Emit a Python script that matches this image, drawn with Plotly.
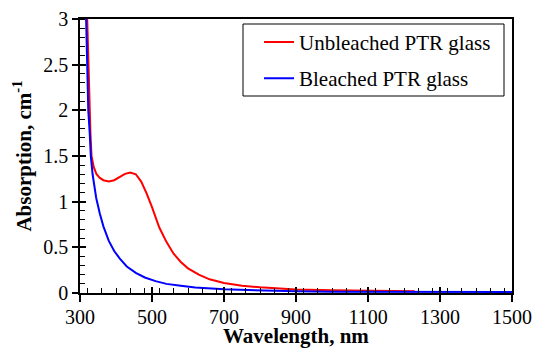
import plotly.graph_objects as go

# Unbleached PTR glass
red_wl = [320, 323, 326, 329, 332, 338, 346, 355, 365, 380, 395, 410, 425, 440, 455, 470, 485, 500,
          520, 540, 560, 580, 600, 630, 660, 700, 750, 800, 850, 900, 1000, 1100, 1230]
red_abs = [3.0, 2.5, 2.0, 1.75, 1.5, 1.38, 1.30, 1.26, 1.235, 1.22, 1.235, 1.27, 1.305, 1.32, 1.30, 1.22,
           1.09, 0.94, 0.72, 0.56, 0.43, 0.34, 0.27, 0.2, 0.15, 0.11, 0.08, 0.062, 0.048, 0.038, 0.03, 0.024, 0.02]

# Bleached PTR glass
blue_wl = [317, 320, 323, 327, 330, 335, 340, 345, 355, 365, 380, 395, 410, 430, 455, 480, 510, 540,
           580, 620, 700, 800, 900, 1000, 1200, 1500]
blue_abs = [3.0, 2.5, 2.0, 1.75, 1.5, 1.3, 1.15, 1.04, 0.87, 0.73, 0.57, 0.46, 0.38, 0.29, 0.22, 0.17,
            0.13, 0.1, 0.08, 0.06, 0.04, 0.025, 0.018, 0.015, 0.013, 0.012]

x_ticks = [300, 500, 700, 900, 1100, 1300, 1500]
x_tick_labels = ["300", "500", "700", "900", "1100", "1300", "1500"]
y_ticks = [0, 0.5, 1, 1.5, 2, 2.5, 3]
y_tick_labels = ["0", "0.5", "1", "1.5", "2", "2.5", "3"]

FONT = "Times New Roman, Liberation Serif, serif"

fig = go.Figure()
fig.add_trace(go.Scatter(x=red_wl, y=red_abs, mode="lines", name="Unbleached PTR glass",
                         legendgroup="a", line=dict(color="#ff0000", width=2)))
fig.add_trace(go.Scatter(x=blue_wl, y=blue_abs, mode="lines", name="Bleached PTR glass",
                         legendgroup="b", line=dict(color="#0000ff", width=2)))
# dummy trace to create overlay axes (inside half of crossing major ticks)
fig.add_trace(go.Scatter(x=[None], y=[None], xaxis="x2", yaxis="y2", showlegend=False, hoverinfo="skip"))

fig.update_layout(
    width=533, height=349,
    margin=dict(l=80, r=21, t=19, b=56, autoexpand=False),
    font=dict(family=FONT, size=20, color="black"),
    plot_bgcolor="white", paper_bgcolor="white",
    showlegend=True,
    legend=dict(x=0.963, xanchor="right", y=0.99, yanchor="top",
                borderwidth=0, bgcolor="rgba(0,0,0,0)",
                tracegroupgap=6,
                font=dict(family=FONT, size=21, color="black")),
    shapes=[dict(type="rect", xref="paper", yref="paper",
                 x0=(243 - 80) / 432, x1=(504 - 80) / 432,
                 y0=(293 - 96) / 274, y1=(293 - 24) / 274,
                 line=dict(color="black", width=1), fillcolor="rgba(0,0,0,0)", layer="above")],
    annotations=[dict(text="<b>Wavelength, nm</b>", xref="paper", yref="paper",
                      x=0.5, y=-(336 - 293) / 274, xanchor="center", yanchor="middle",
                      showarrow=False, font=dict(family=FONT, size=21, color="black"))],
    xaxis=dict(range=[300, 1500], tickvals=x_ticks, ticktext=x_tick_labels, ticks="outside", ticklen=7,
               showgrid=False, zeroline=False, linecolor="black", linewidth=1.5,
               tickcolor="black", tickwidth=1.5, mirror=True, showline=True, automargin=False,
               tickfont=dict(family=FONT, size=20, color="black"), ticklabelstandoff=-2,
               minor=dict(dtick=40, ticks="inside", ticklen=5, tickcolor="black", tickwidth=1.2)),
    yaxis=dict(range=[0, 3], tickvals=y_ticks, ticktext=y_tick_labels, ticks="outside", ticklen=6,
               showgrid=False, zeroline=False, linecolor="black", linewidth=1.5,
               tickcolor="black", tickwidth=1.5, mirror=True, showline=True, automargin=False,
               tickfont=dict(family=FONT, size=20, color="black"),
               minor=dict(dtick=0.1, ticks="inside", ticklen=5, tickcolor="black", tickwidth=1.2),
               title=dict(text="<b>Absorption, cm<sup>-1</sup></b>", font=dict(family=FONT, size=21, color="black"),
                          standoff=6)),
    xaxis2=dict(range=[300, 1500], tickvals=x_ticks, ticks="inside", ticklen=6, tickcolor="black",
                tickwidth=1.5, showticklabels=False, showgrid=False, zeroline=False, showline=False,
                overlaying="x", anchor="y2", automargin=False),
    yaxis2=dict(range=[0, 3], tickvals=y_ticks, ticks="inside", ticklen=6, tickcolor="black",
                tickwidth=1.5, showticklabels=False, showgrid=False, zeroline=False, showline=False,
                overlaying="y", anchor="x2", automargin=False),
)

fig.write_html("out.html")
